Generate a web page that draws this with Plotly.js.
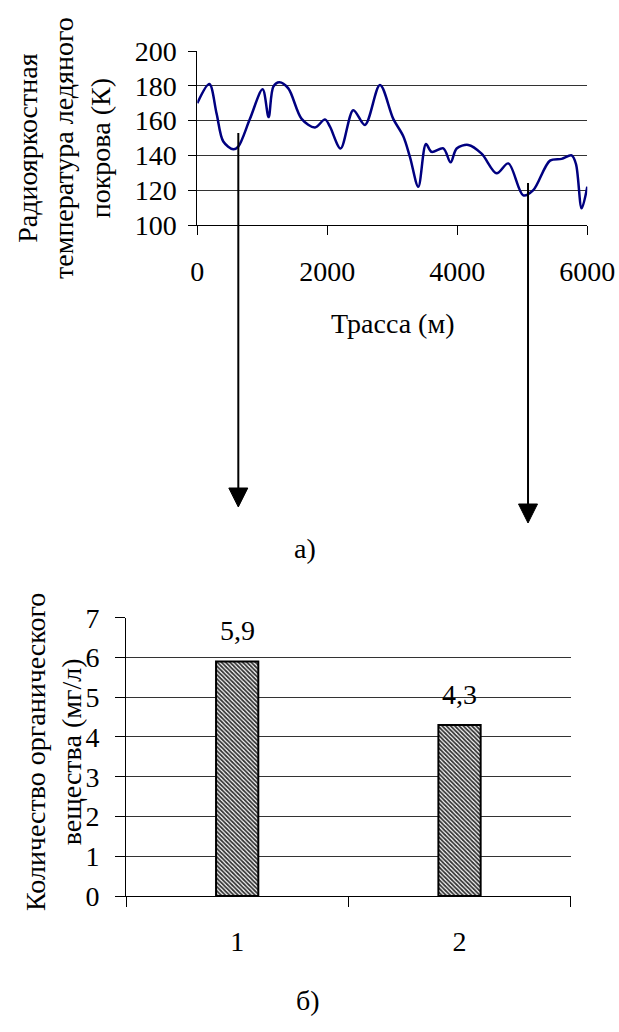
<!DOCTYPE html>
<html>
<head>
<meta charset="utf-8">
<script src="https://cdn.plot.ly/plotly-3.0.1.min.js"></script>
<style>html,body{margin:0;padding:0;background:#fff;}#chart{width:619px;height:1032px;}</style>
</head>
<body>
<div id="chart"></div>
<script>
// ---- Data: top chart (radiobrightness temperature along the track) ----
const trackX = [0, 185, 297, 400, 554, 630, 810, 1005, 1097, 1170, 1262, 1400, 1605, 1810, 1964, 2041, 2205, 2400, 2579, 2810, 3015, 3169, 3272, 3400, 3518, 3605, 3785, 3897, 3990, 4169, 4374, 4605, 4785, 5015, 5169, 5426, 5605, 5759, 5826, 5913, 6000];
const tempK  = [170, 181, 164, 148, 143.5, 145, 161, 178, 162, 179.5, 182, 178.5, 161, 156, 160.7, 156.5, 144, 166, 157.5, 180.5, 161, 151, 139, 122, 146.5, 142, 144, 136, 144, 146, 141, 129.7, 135.4, 117, 120, 137, 138, 140, 135, 109.6, 122];
const topYTicks = [100, 120, 140, 160, 180, 200];
const topXTicks = [0, 2000, 4000, 6000];
const arrowTrackX = [631, 5088];

// ---- Data: bottom chart (organic matter) ----
const sampleCats = ['1', '2'];
const organic = [5.9, 4.3];
const botYTicks = [0, 1, 2, 3, 4, 5, 6, 7];

const W = 619, H = 1032;
const px = v => v / W;
const py = v => 1 - v / H;
const FONT = '"Liberation Serif", "Times New Roman", serif';
const FS = 28;
const tf = {family: FONT, size: FS, color: '#000'};

const traces = [
  {
    type: 'scatter', mode: 'lines', x: trackX, y: tempK,
    line: {color: '#000080', width: 2.5, shape: 'spline', smoothing: 0.9},
    xaxis: 'x', yaxis: 'y', hoverinfo: 'x+y'
  },
  {
    type: 'bar', x: sampleCats, y: organic, width: 0.19,
    marker: {
      color: '#ffffff',
      line: {color: '#000', width: 2},
      pattern: {shape: '\\', fgcolor: '#333', bgcolor: '#fff', size: 3, solidity: 0.6}
    },
    xaxis: 'x2', yaxis: 'y2', hoverinfo: 'x+y'
  }
];

function lab(x, y, text, extra) {
  return Object.assign({xref: 'paper', yref: 'paper', x: px(x), y: py(y), text: text,
    showarrow: false, xanchor: 'center', yanchor: 'middle', font: tf, align: 'center'}, extra || {});
}

const annotations = [
  lab(64, 148, 'Радиояркостная<br>температура ледяного<br>покрова (К)', {textangle: -90}),
  lab(392, 323, 'Трасса (м)'),
  lab(305, 548, 'а)'),
  lab(53, 752, 'Количество органического<br>вещества (мг/л)', {textangle: -90}),
  lab(308, 1000, 'б)')
];
organic.forEach((v, i) => {
  annotations.push({
    xref: 'x2', yref: 'y2', x: i, y: v, yshift: 31, showarrow: false,
    xanchor: 'center', yanchor: 'middle',
    text: String(v).replace('.', ','), font: tf
  });
});

// arrows (positions along the track where the samples were taken)
const shapes = [];
const arrowTop = [133, 183];
const arrowTip = [507, 523];
arrowTrackX.forEach((xv, i) => {
  const tip = arrowTip[i], head = tip - 19;
  shapes.push({type: 'line', xref: 'x', yref: 'paper', x0: xv, x1: xv, y0: py(arrowTop[i]), y1: py(head),
               line: {color: '#000', width: 2}});
  const dx = 9.5 / 390 * 6000;
  shapes.push({type: 'path', xref: 'x', yref: 'paper',
               path: `M ${xv - dx},${py(head)} L ${xv + dx},${py(head)} L ${xv},${py(tip)} Z`,
               fillcolor: '#000', line: {color: '#000', width: 1}});
});

const layout = {
  width: W, height: H,
  margin: {l: 0, r: 0, t: 0, b: 0},
  paper_bgcolor: '#fff', plot_bgcolor: '#fff',
  showlegend: false,
  font: tf,
  xaxis: {
    domain: [px(197.3), px(587.3)], range: [0, 6000], tickvals: topXTicks,
    showgrid: false, zeroline: false, showline: true, linecolor: '#000', linewidth: 1,
    ticks: 'outside', ticklen: 9, tickcolor: '#000', ticklabelstandoff: 12,
    tickfont: tf, anchor: 'y', fixedrange: true
  },
  yaxis: {
    domain: [py(225), py(51)], range: [100, 200], tickvals: topYTicks,
    showgrid: true, gridcolor: '#333', gridwidth: 1, zeroline: false,
    showline: true, linecolor: '#000', linewidth: 1,
    ticks: 'outside', ticklen: 8, tickcolor: '#000', ticklabelstandoff: 6,
    tickfont: tf, anchor: 'x', fixedrange: true
  },
  xaxis2: {
    domain: [px(126), px(570.7)], type: 'category', range: [-0.5, 1.5],
    showgrid: false, zeroline: false, showline: true, linecolor: '#000', linewidth: 1,
    ticks: 'outside', tickson: 'boundaries', ticklen: 10, tickcolor: '#000', ticklabelstandoff: 20,
    tickfont: tf, anchor: 'y2', fixedrange: true
  },
  yaxis2: {
    domain: [py(896), py(617.7)], range: [0, 7], tickvals: botYTicks,
    showgrid: true, gridcolor: '#333', gridwidth: 1, zeroline: false,
    showline: true, linecolor: '#000', linewidth: 1,
    ticks: 'outside', ticklen: 10, tickcolor: '#000', ticklabelstandoff: 10,
    tickfont: tf, anchor: 'x2', fixedrange: true
  },
  annotations: annotations,
  shapes: shapes
};

Plotly.newPlot('chart', traces, layout, {displayModeBar: false, staticPlot: true});
</script>
</body>
</html>
